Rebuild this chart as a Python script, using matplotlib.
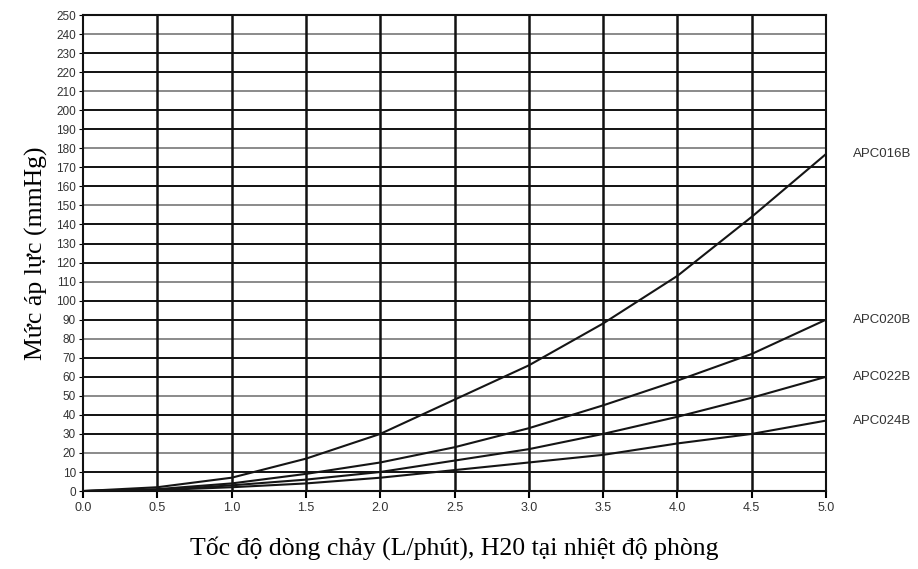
import numpy as np
import matplotlib
matplotlib.use("Agg")
import matplotlib.pyplot as plt

# luu luong (L/phut) va ap luc (mmHg) cho tung loai dau noi
flow = [0.0, 0.5, 1.0, 1.5, 2.0, 2.5, 3.0, 3.5, 4.0, 4.5, 5.0]
apc016b = [0, 2, 7, 17, 30, 48, 66, 88, 113, 144, 177]
apc020b = [0, 1, 4, 9, 15, 23, 33, 45, 58, 72, 90]
apc022b = [0, 0.5, 3, 6, 10, 16, 22, 30, 39, 49, 60]
apc024b = [0, 0.5, 2, 4, 7, 11, 15, 19, 25, 30, 37]
series = [("APC016B", apc016b), ("APC020B", apc020b),
          ("APC022B", apc022b), ("APC024B", apc024b)]

yticks = list(range(0, 260, 10))
xticks = [0.0, 0.5, 1.0, 1.5, 2.0, 2.5, 3.0, 3.5, 4.0, 4.5, 5.0]
gray_rows = [240, 210, 180, 150, 110, 80, 50, 20]

fig = plt.figure(figsize=(9.18, 5.69), dpi=100)
ax = fig.add_axes([0.0904, 0.137, 0.8094, 0.8366])

# luoi ngang: xen ke den va xam
for v in yticks[1:]:
    c = "#8a8a8a" if v in gray_rows else "#111111"
    ax.axhline(v, color=c, lw=1.4, zorder=1)
for v in xticks[1:]:
    ax.axvline(v, color="#111111", lw=1.8, zorder=1)

for name, vals in series:
    ax.plot(flow, vals, color="#151515", lw=1.5, zorder=3)
    ax.text(5.18, vals[-1], name, fontsize=9.5, family="Liberation Sans",
            va="center", ha="left", color="#333333")

ax.set_xlim(0, 5)
ax.set_ylim(0, 250)
ax.set_xticks(xticks)
ax.set_xticklabels(["%.1f" % v for v in xticks], family="Liberation Sans",
                   fontsize=9, color="#333333")
ax.set_yticks(yticks)
ax.set_yticklabels([str(v) for v in yticks], family="Liberation Sans",
                   fontsize=8.5, color="#333333")
ax.tick_params(axis="y", length=3, width=0.8, pad=2)
ax.tick_params(axis="x", length=5, width=1.5, pad=3)
for s in ax.spines.values():
    s.set_color("#111111")
    s.set_linewidth(1.5)

ax.set_ylabel("Mức áp lực (mmHg)", family="Liberation Serif", fontsize=18.5,
              labelpad=6)
ax.set_xlabel("Tốc độ dòng chảy (L/phút), H20 tại nhiệt độ phòng",
              family="Liberation Serif", fontsize=18.5, labelpad=16)

fig.savefig("out.png", dpi=100)
